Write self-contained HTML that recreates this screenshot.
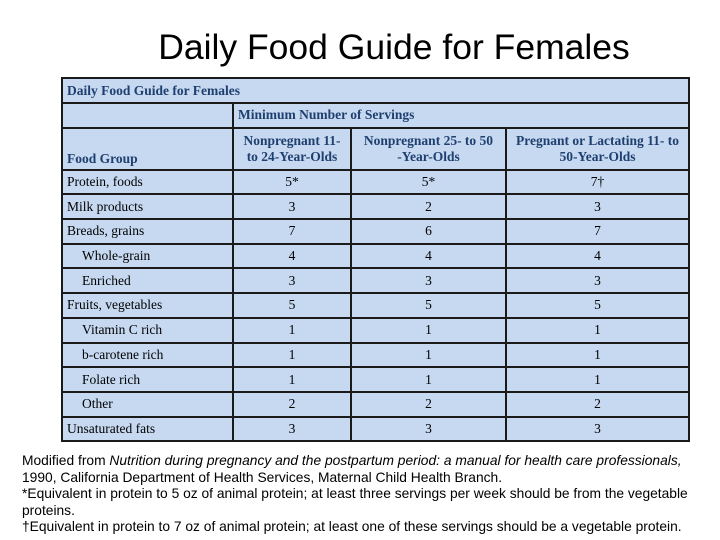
<!DOCTYPE html>
<html><head><meta charset="utf-8"><style>
body{margin:0;width:720px;height:540px;background:#fff;position:relative;overflow:hidden;font-family:"Liberation Serif",serif}
h1{position:absolute;left:0;width:788px;top:27px;margin:0;text-align:center;font-family:"Liberation Sans",sans-serif;font-weight:normal;font-size:35.5px;color:#000}
table{position:absolute;left:61px;top:77px;width:629px;border-collapse:collapse;background:#c6d9f1;font-size:13.5px}
td{border:2px solid #1a1a1a;padding:0 4px;height:22.7px;text-align:center;white-space:nowrap}
td.l{text-align:left}
td.i{text-align:left;padding-left:19px}
tr.h td{font-weight:bold;color:#1f3f6f}
.f{position:absolute;left:22px;top:453px;width:680px;font-family:"Liberation Sans",sans-serif;font-size:13.8px;line-height:16.6px;color:#000}
</style></head><body>
<h1>Daily Food Guide for Females</h1>
<table>
<colgroup><col style="width:171px"><col style="width:118px"><col style="width:155px"><col></colgroup>
<tr class="h"><td class="l" colspan="4" style="height:23px">Daily Food Guide for Females</td></tr>
<tr class="h"><td></td><td class="l" colspan="3">Minimum Number of Servings</td></tr>
<tr class="h"><td class="l" style="vertical-align:bottom;height:38px;padding-bottom:2px">Food Group</td><td style="white-space:normal;line-height:16px">Nonpregnant 11-<br>to 24-Year-Olds</td><td style="line-height:16px">Nonpregnant 25- to 50<br>-Year-Olds</td><td style="line-height:16px">Pregnant or Lactating 11- to<br>50-Year-Olds</td></tr>
<tr><td class="l">Protein, foods</td><td>5*</td><td>5*</td><td>7†</td></tr>
<tr><td class="l">Milk products</td><td>3</td><td>2</td><td>3</td></tr>
<tr><td class="l">Breads, grains</td><td>7</td><td>6</td><td>7</td></tr>
<tr><td class="i">Whole-grain</td><td>4</td><td>4</td><td>4</td></tr>
<tr><td class="i">Enriched</td><td>3</td><td>3</td><td>3</td></tr>
<tr><td class="l">Fruits, vegetables</td><td>5</td><td>5</td><td>5</td></tr>
<tr><td class="i">Vitamin C rich</td><td>1</td><td>1</td><td>1</td></tr>
<tr><td class="i">b-carotene rich</td><td>1</td><td>1</td><td>1</td></tr>
<tr><td class="i">Folate rich</td><td>1</td><td>1</td><td>1</td></tr>
<tr><td class="i">Other</td><td>2</td><td>2</td><td>2</td></tr>
<tr><td class="l">Unsaturated fats</td><td>3</td><td>3</td><td>3</td></tr>
</table>
<div class="f">Modified from <i>Nutrition during pregnancy and the postpartum period: a manual for health care professionals,</i> 1990, California Department of Health Services, Maternal Child Health Branch.<br>*Equivalent in protein to 5 oz of animal protein; at least three servings per week should be from the vegetable proteins.<br>†Equivalent in protein to 7 oz of animal protein; at least one of these servings should be a vegetable protein.</div>
</body></html>
